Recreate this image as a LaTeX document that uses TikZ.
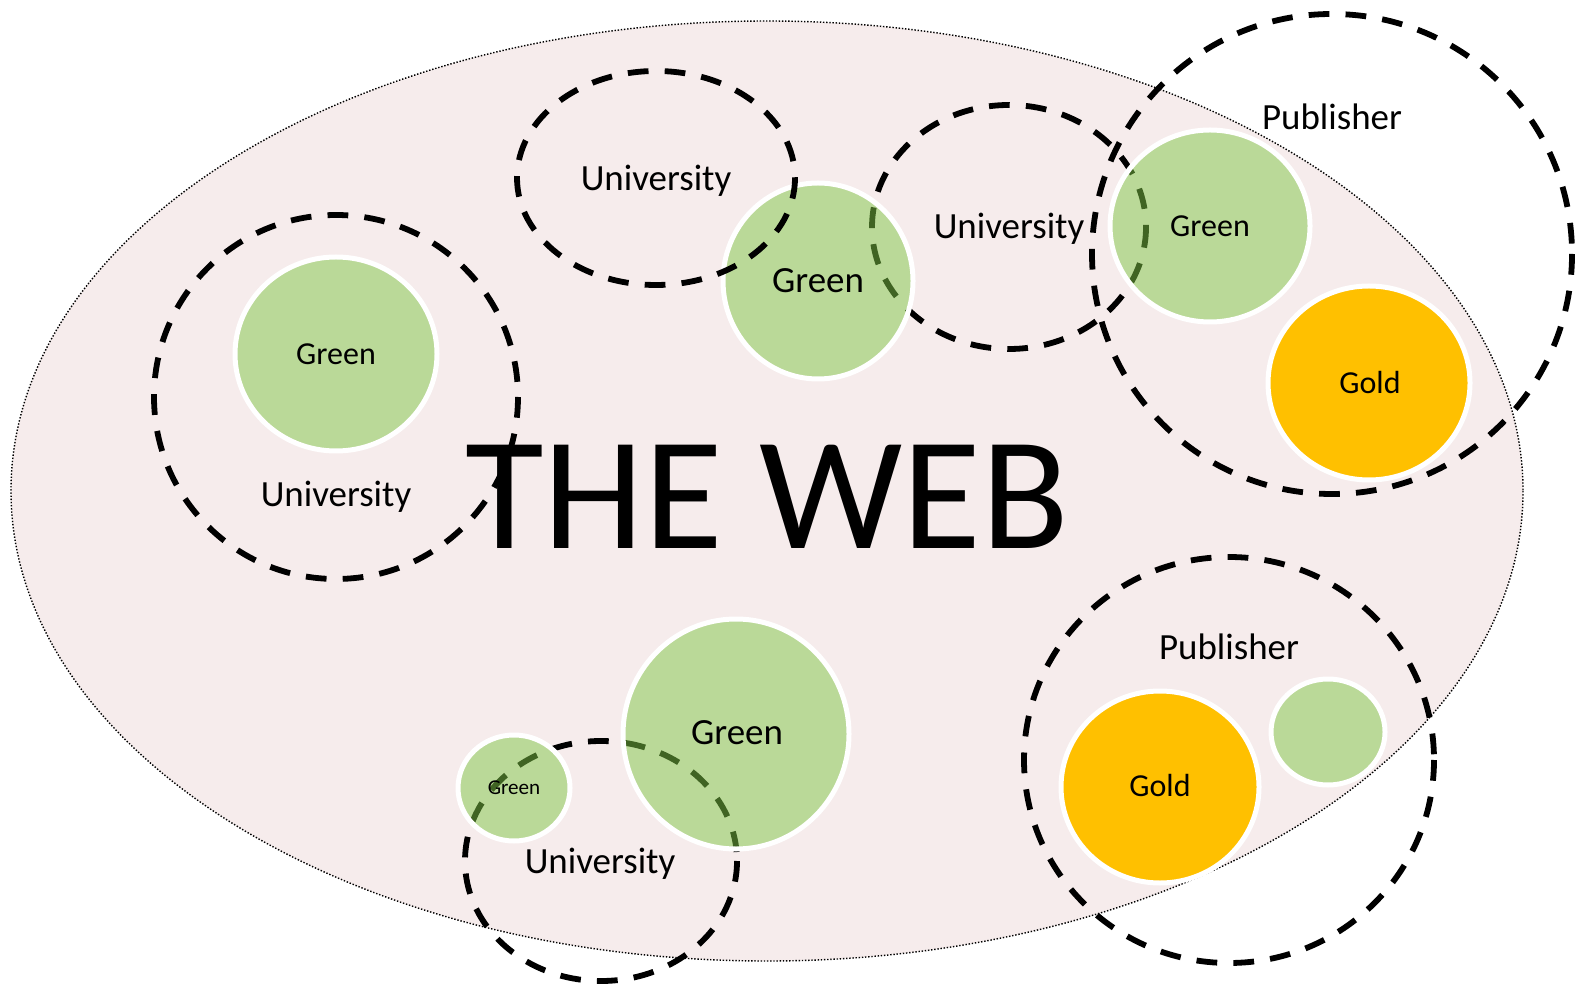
\documentclass[tikz,border=0pt]{standalone}
\usepackage{fontspec}
\setmainfont{Carlito}
\usepackage{tikz}

\definecolor{webpink}{RGB}{246,236,236}
\definecolor{greenfill}{RGB}{128,200,70}
\definecolor{goldfill}{RGB}{255,192,0}

\newcommand{\fsUni}{\fontsize{10.5}{12}\selectfont}
\newcommand{\fsDisc}{\fontsize{9.1}{11}\selectfont}
\newcommand{\fsTiny}{\fontsize{6}{7}\selectfont}
\newcommand{\fsWeb}{\fontsize{45.8}{50}\selectfont}

\tikzset{
  webline/.style={color=black, line width=0.4pt, dash pattern=on 0.4pt off 0.5pt, fill=webpink},
  unidash/.style={color=black, line width=1.65pt, dash pattern=on 5.9pt off 4.6pt},
  greendisc/.style={draw=white, line width=1.42pt, fill=greenfill, fill opacity=0.5},
  golddisc/.style={draw=white, line width=1.42pt, fill=goldfill},
  lbluni/.style={inner sep=0pt, font=\fsUni, text height=6.7pt, text depth=0pt},
  lbldisc/.style={inner sep=0pt, font=\fsDisc, text height=5.8pt, text depth=0pt},
  lbltiny/.style={inner sep=0pt, font=\fsTiny, text height=3.8pt, text depth=0pt},
  lblweb/.style={inner sep=0pt, font=\fsWeb, text height=29.4pt, text depth=0pt},
}

\begin{document}
\begin{tikzpicture}[x=0.01cm, y=-0.01cm]
\useasboundingbox (0,0) rectangle (1577,986);

% the web
\draw[webline] (767,491) ellipse (756 and 470);

% universities and publishers
\draw[unidash] (336,397) circle (182);
\draw[unidash] (1009,227) ellipse (137 and 122);
\draw[unidash] (1332,254) circle (240);
\draw[unidash] (601,861) ellipse (136 and 120);
\draw[unidash] (1229,760) ellipse (205 and 203);

% green and gold
\draw[greendisc] (336,354) ellipse (101 and 97);
\draw[greendisc] (818,281) ellipse (95 and 98);
\draw[greendisc] (1210,226) ellipse (100 and 96);
\draw[golddisc]  (1369,383) ellipse (101 and 97);
\draw[greendisc] (736,734) ellipse (113 and 115);
\draw[greendisc] (514,788) ellipse (56 and 53);
\draw[golddisc]  (1160,787) ellipse (99 and 96);
\draw[greendisc] (1328,732) ellipse (57 and 53);

% this one lies over the green
\draw[unidash] (656,178) ellipse (139 and 107);

% labels
\node[lblweb] (web) at (767,497) {THE WEB};

\node[lbluni] (uniA) at (336,495) {University};
\node[lbluni] (uniB) at (656,179) {University};
\node[lbluni] (uniC) at (1009,227) {University};
\node[lbluni] (uniD) at (600,862) {University};
\node[lbluni] (pubA) at (1332,118) {Publisher};
\node[lbluni] (pubB) at (1229,648) {Publisher};

\node[lbldisc] (greenA) at (336,354) {Green};
\node[lbluni]  (greenB) at (818,281) {Green};
\node[lbldisc] (greenC) at (1210,226) {Green};
\node[lbluni]  (greenD) at (737,733) {Green};
\node[lbltiny] (greenE) at (514,788) {Green};
\node[lbldisc] (goldA) at (1370,383) {Gold};
\node[lbldisc] (goldB) at (1160,786) {Gold};

\end{tikzpicture}
\end{document}
